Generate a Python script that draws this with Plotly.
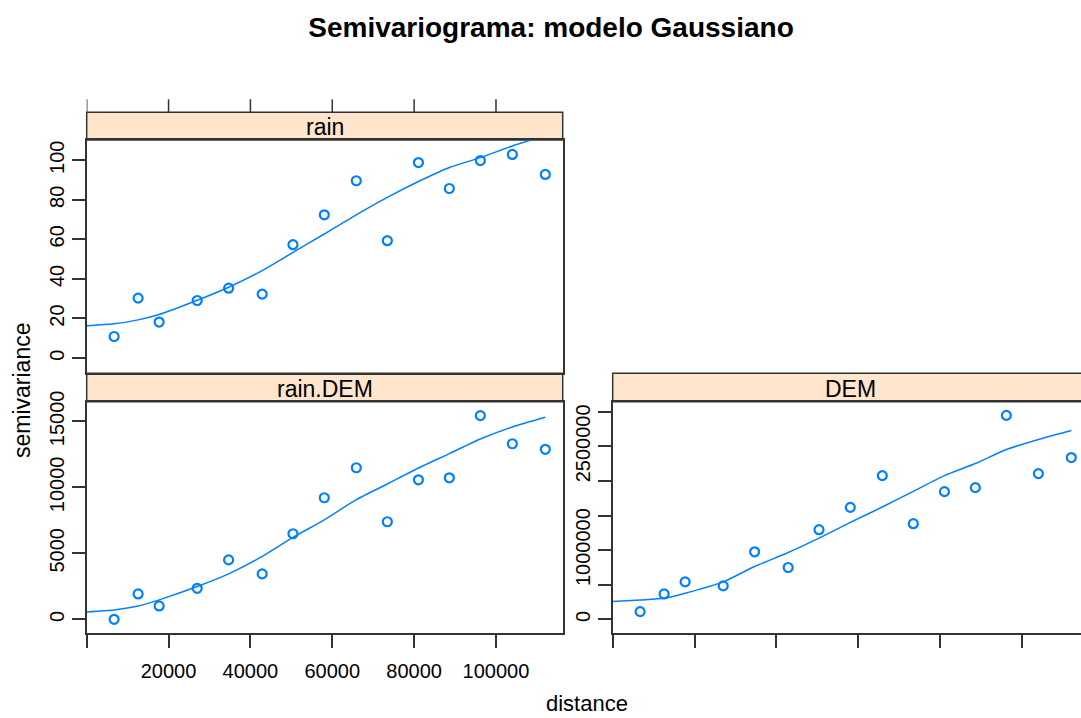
"""Semivariogram panels (rain, rain.DEM, DEM) with fitted Gaussian model."""
import plotly.graph_objects as go

# sample variogram: lag distances shared by the three panels
distance = [6700, 12560, 17700, 27000, 34670, 42870, 50400, 58050,
            65870, 73450, 81050, 88600, 96180, 104000, 112050]
rain_gamma = [10.9, 30.3, 18.2, 29.1, 35.3, 32.3, 57.3, 72.4,
              89.6, 59.3, 98.8, 85.7, 99.8, 102.9, 92.8]
rain_dem_gamma = [0, 1920, 1010, 2350, 4500, 3440, 6480, 9210,
                  11480, 7390, 10570, 10720, 15430, 13300, 12880]
dem_gamma = [111000, 367000, 541000, 483000, 976000, 749000, 1295000, 1618000,
             2077000, 1382000, 1845000, 1903000, 2947000, 2106000, 2338000]

# fitted model curve
model_dist = [0, 6700, 12560, 17700, 27000, 34670, 42870, 50400, 58050,
              65870, 73450, 81050, 88600, 96180, 104000, 112050]
rain_model = [16.3, 17.3, 19.3, 22.0, 29.2, 35.8, 44.2, 53.4, 62.7,
              72.4, 81.2, 89.2, 96.3, 101.3, 107.2, 112.5]
rain_dem_model = [560, 708, 1000, 1470, 2480, 3440, 4760, 6200, 7540,
                  9060, 10250, 11460, 12550, 13660, 14570, 15300]
dem_model = [256000, 280000, 304000, 377000, 541000, 763000, 966000, 1174000, 1401000,
             1623000, 1850000, 2077000, 2251000, 2454000, 2599000, 2729000]

x_ticks = [0, 20000, 40000, 60000, 80000, 100000]
x_labels = ["", "20000", "40000", "60000", "80000", "100000"]
rain_ticks = [0, 20, 40, 60, 80, 100]
rain_dem_ticks = [0, 5000, 10000, 15000]
rain_dem_labels = ["0", "5000", "10000", "15000"]
dem_ticks = [0, 500000, 1000000, 1500000, 2000000, 2500000, 3000000]
dem_labels = ["0", "", "1000000", "", "", "2500000", ""]

W, H = 1081, 718
BLUE = "#0080ff"
INK = "#333333"
STRIP = "#ffe5cc"
FONT = "Liberation Sans, Arial, sans-serif"


def px(x):
    return x / W


def py(y):
    return (H - y) / H


LEFT, RIGHT = 86.7, 562.7
DEM_LEFT = 612.7
TOP_STRIP = (112.3, 140.0)
BOT_STRIP = (373.3, 401.7)
BOT_PANEL = (401.7, 633.3)

fig = go.Figure()
panels = [
    ("x", "y", rain_gamma, rain_model),
    ("x2", "y2", rain_dem_gamma, rain_dem_model),
    ("x3", "y3", dem_gamma, dem_model),
]
for xa, ya, pts, model in panels:
    fig.add_trace(go.Scatter(
        x=distance, y=pts, xaxis=xa, yaxis=ya, mode="markers",
        marker=dict(symbol="circle-open", size=9, color=BLUE, line=dict(width=2.2, color=BLUE)),
        showlegend=False, hoverinfo="x+y",
    ))
    fig.add_trace(go.Scatter(
        x=model_dist, y=model, xaxis=xa, yaxis=ya, mode="lines",
        line=dict(color=BLUE, width=1.5, shape="spline", smoothing=0.6),
        showlegend=False, hoverinfo="skip",
    ))

axis_common = dict(showline=True, linecolor=INK, linewidth=1.5, showgrid=False,
                   zeroline=False, tickcolor=INK, tickwidth=1.5, ticklen=13,
                   automargin=False,
                   tickfont=dict(size=20, color="black", family=FONT))
x_range = [0, 116300]
dem_x_range = [0, (W - DEM_LEFT) / (RIGHT - LEFT) * x_range[1]]

fig.update_layout(
    width=W, height=H,
    margin=dict(l=0, r=0, t=0, b=0),
    paper_bgcolor="white", plot_bgcolor="white",
    font=dict(family=FONT, color="black"),
    title=dict(text="<b>Semivariograma: modelo Gaussiano</b>", x=551 / W, xanchor="center",
               xref="paper", y=py(27), yref="container", yanchor="middle",
               font=dict(size=28, family=FONT, color="black")),
    xaxis=dict(axis_common, domain=[px(LEFT), px(RIGHT)], anchor="y", range=x_range,
               mirror=True, ticks="", showticklabels=False),
    yaxis=dict(axis_common, domain=[py(BOT_STRIP[0]), py(TOP_STRIP[1])], anchor="x",
               range=[-7.7, 110.2], mirror=True, ticks="outside", tickvals=rain_ticks,
               tickangle=-90, ticklabelstandoff=0),
    xaxis2=dict(axis_common, domain=[px(LEFT), px(RIGHT)], anchor="y2", range=x_range,
                mirror=True, ticks="outside", tickvals=x_ticks, ticktext=x_labels,
                ticklabelstandoff=6),
    yaxis2=dict(axis_common, domain=[py(BOT_PANEL[1]), py(BOT_PANEL[0])], anchor="x2",
                range=[-1061, 16485], mirror=True, ticks="outside", tickvals=rain_dem_ticks,
                ticktext=rain_dem_labels, tickangle=-90, ticklabelstandoff=0),
    xaxis3=dict(axis_common, domain=[px(DEM_LEFT), 1.0], anchor="y3", range=dem_x_range,
                mirror=True, ticks="outside", tickvals=x_ticks, showticklabels=False),
    yaxis3=dict(axis_common, domain=[py(BOT_PANEL[1]), py(BOT_PANEL[0])], anchor="x3",
                range=[-202000, 3145000], mirror=False, ticks="outside", tickvals=dem_ticks,
                ticktext=dem_labels, tickangle=-90, ticklabelstandoff=0),
)

# strips above each panel
strips = [
    ("rain", LEFT, RIGHT, TOP_STRIP),
    ("rain.DEM", LEFT, RIGHT, BOT_STRIP),
    ("DEM", DEM_LEFT, W + 6, BOT_STRIP),
]
for label, x0, x1, (s0, s1) in strips:
    fig.add_shape(type="rect", xref="paper", yref="paper",
                  x0=px(x0), x1=px(x1), y0=py(s1), y1=py(s0),
                  fillcolor=STRIP, line=dict(color=INK, width=1.5), layer="below")
    cx = (x0 + x1) / 2 if label != "DEM" else DEM_LEFT + (RIGHT - LEFT) / 2
    fig.add_annotation(text=label, xref="paper", yref="paper", x=px(cx), y=py((s0 + s1) / 2 + 1),
                       showarrow=False, font=dict(size=23, family=FONT, color="black"),
                       xanchor="center", yanchor="middle")

# top-row x ticks sit above the strip
for t in x_ticks:
    fig.add_shape(type="line", xref="x", yref="paper", x0=t, x1=t,
                  y0=py(TOP_STRIP[0]), y1=py(TOP_STRIP[0] - 13),
                  line=dict(color=INK, width=1.5))

fig.add_annotation(text="semivariance", xref="paper", yref="paper", x=px(22), y=py(390),
                   textangle=-90, showarrow=False, xanchor="center", yanchor="middle",
                   font=dict(size=23, family=FONT, color="black"))
fig.add_annotation(text="distance", xref="paper", yref="paper", x=px(587), y=py(703),
                   showarrow=False, xanchor="center", yanchor="middle",
                   font=dict(size=22, family=FONT, color="black"))

# the page body has a default 8px margin; drop it so the figure sits at the corner
fig.write_html("out.html", config={"displayModeBar": False},
               post_script="document.body.style.margin = '0';")
